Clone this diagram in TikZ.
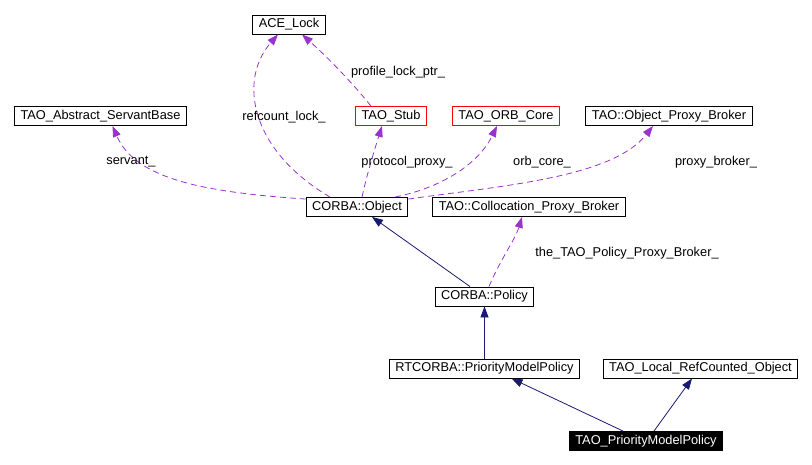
\documentclass[tikz,border=0pt]{standalone}
\usepackage{fontspec}
\setmainfont{Liberation Sans}
\usepackage{xcolor}
\definecolor{diaUse}{HTML}{9A32CD}
\definecolor{diaNavy}{HTML}{191970}
\definecolor{diaRed}{HTML}{FF0000}
\usetikzlibrary{arrows.meta}
\tikzset{
    cls/.style={
        draw=black,
        fill=white,
        rectangle,
        minimum height=19pt,
        inner xsep=6pt,
        inner ysep=0pt,
        text height=9.5pt,
        text depth=2.8pt,
        line width=0.9pt,
        font=\fontsize{12.8}{14}\selectfont
    },
    clsred/.style={
        cls,
        draw=diaRed
    },
    clsfocus/.style={
        cls,
        fill=black,
        text=white
    },
    inherit/.style={
        -{Triangle[length=11pt,width=8pt]},
        line width=0.8pt,
        color=diaNavy
    },
    usage/.style={
        -{Triangle[length=11pt,width=8pt]},
        line width=0.8pt,
        dash pattern=on 6pt off 4pt,
        color=diaUse
    },
    rolelabel/.style={
        font=\fontsize{12.8}{14}\selectfont,
        inner sep=0pt
    }
}
\begin{document}
\begin{tikzpicture}[x=1pt,y=-1pt]
    \useasboundingbox (0,0) rectangle (812,465);
    % classes
    \node[cls] (lock) at (289,24.5) {ACE\_Lock};
    \node[cls] (servant) at (100.5,116) {TAO\_Abstract\_ServantBase};
    \node[clsred] (stub) at (391,116) {TAO\_Stub};
    \node[clsred] (orb) at (506,116) {TAO\_ORB\_Core};
    \node[cls] (opb) at (669,116) {TAO::Object\_Proxy\_Broker};
    \node[cls] (obj) at (357,207) {CORBA::Object};
    \node[cls] (col) at (529,207) {TAO::Collocation\_Proxy\_Broker};
    \node[cls] (pol) at (484.5,296.5) {CORBA::Policy};
    \node[cls] (rt) at (484.5,368.5) {RTCORBA::PriorityModelPolicy};
    \node[cls] (lro) at (700.5,368.5) {TAO\_Local\_RefCounted\_Object};
    \node[clsfocus] (tpm) at (646,441) {TAO\_PriorityModelPolicy};

    % usage edges
    \draw[usage] ([xshift=-27pt]obj.north) .. controls (250,150) and (238,80) .. ([xshift=-11pt]lock.south);
    \draw[usage] ([xshift=-20pt]stub.north) .. controls (350,80) and (325,55) .. ([xshift=13pt]lock.south);
    \draw[usage] ([yshift=-2pt]obj.north west) .. controls (200,192) and (135,178) .. ([xshift=12pt]servant.south);
    \draw[usage] ([xshift=5pt]obj.north) .. controls (368,170) and (376,145) .. ([xshift=-9pt]stub.south);
    \draw[usage] ([xshift=38pt]obj.north) .. controls (440,188) and (478,165) .. ([xshift=-9pt]orb.south);
    \draw[usage] ([yshift=-2pt]obj.north east) .. controls (500,186) and (612,178) .. ([xshift=-16pt]opb.south);
    \draw[usage] ([xshift=4.5pt]pol.north) .. controls (500,260) and (515,240) .. ([xshift=-7pt]col.south);

    % inheritance edges
    \draw[inherit] ([xshift=-14.5pt]pol.north) -- ([xshift=15pt]obj.south);
    \draw[inherit] (rt.north) -- (pol.south);
    \draw[inherit] ([xshift=-23pt]tpm.north) -- ([xshift=27pt]rt.south);
    \draw[inherit] ([xshift=8pt]tpm.north) -- ([xshift=-8.5pt]lro.south);

    % member names
    \node[rolelabel] (lblRefcount) at (284,117) {refcount\_lock\_};
    \node[rolelabel] (lblProfile) at (398,72) {profile\_lock\_ptr\_};
    \node[rolelabel] (lblServant) at (131,162) {servant\_};
    \node[rolelabel] (lblProtocol) at (407,162) {protocol\_proxy\_};
    \node[rolelabel] (lblOrb) at (542,162) {orb\_core\_};
    \node[rolelabel] (lblBroker) at (716,162) {proxy\_broker\_};
    \node[rolelabel] (lblPolicy) at (627,253) {the\_TAO\_Policy\_Proxy\_Broker\_};
\end{tikzpicture}
\end{document}
